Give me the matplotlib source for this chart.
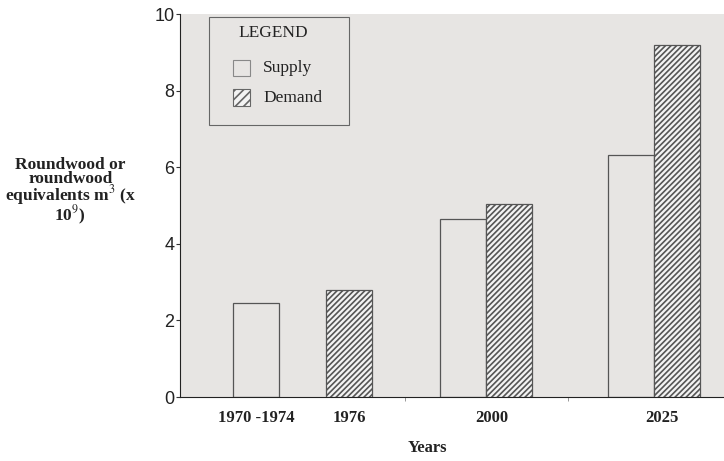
import matplotlib.pyplot as plt
import numpy as np

# degerler (m3 x 10^9)
years = ["1970 -1974", "1976", "2000", "2025"]
supply = [2.45, 0, 4.65, 6.33]
demand = [0, 2.8, 5.05, 9.2]

plt.rcParams['hatch.linewidth'] = 1.2
plt.rcParams['hatch.color'] = '#4a4a4a'
plt.rcParams['mathtext.fontset'] = 'stix'

serif = 'Liberation Serif'
bg = '#e7e5e3'
edge = '#555555'

# yerlesim (eksen birimi = 100 piksel)
sup_x = [0.76, None, 2.83, 4.51]
dem_x = [None, 1.69, 3.29, 4.975]
tick_x = [0.76, 1.69, 3.12, 4.82]
w = 0.46

fig = plt.figure(figsize=(7.24, 4.61), dpi=100)
ax = fig.add_axes([0.2486, 0.1388, 0.7514, 0.8308])
ax.set_facecolor(bg)

for x, v in zip(sup_x, supply):
    if x is not None:
        ax.bar(x, v, w, facecolor=bg, edgecolor=edge, linewidth=0.9, zorder=2)
for x, v in zip(dem_x, demand):
    if x is not None:
        ax.bar(x, v, w, facecolor='#f3f3f3', edgecolor=edge, linewidth=0.9,
               hatch='//////', zorder=3)

ax.set_xlim(0, 5.44)
ax.set_ylim(0, 10)
ax.set_yticks([0, 2, 4, 6, 8, 10])
ax.set_xticks(tick_x)
ax.set_xticklabels(years, family=serif, fontsize=12, weight='bold', color='#222222')
ax.set_xticks([2.25, 3.88], minor=True)
ax.tick_params(axis='x', which='major', length=0, pad=9)
ax.tick_params(axis='x', which='minor', length=3, color='#888888')
ax.tick_params(axis='y', length=3, pad=1, labelsize=13, color='#333333')
for t in ax.get_yticklabels():
    t.set_family('Liberation Sans')
    t.set_color('#222222')

ax.spines['top'].set_visible(False)
ax.spines['right'].set_visible(False)
ax.spines['left'].set_color('#222222')
ax.spines['bottom'].set_color('#222222')

# lejant kutusu (elle)
tr = ax.transAxes
ax.add_patch(plt.Rectangle((0.0533, 0.710), 0.2574, 0.282, transform=tr,
                           facecolor=bg, edgecolor='#666666', linewidth=0.8, zorder=5))
ax.text(0.171, 0.950, "LEGEND", transform=tr, family=serif, fontsize=12.5,
        ha='center', va='center', color='#222222', zorder=6)
ax.add_patch(plt.Rectangle((0.0983, 0.837), 0.031, 0.044, transform=tr,
                           facecolor=bg, edgecolor='#888888', linewidth=0.8, zorder=6))
ax.add_patch(plt.Rectangle((0.0983, 0.759), 0.031, 0.044, transform=tr,
                           facecolor='#f3f3f3', edgecolor='#666666', linewidth=0.8,
                           hatch='////', zorder=6))
ax.text(0.1526, 0.859, "Supply", transform=tr, family=serif, fontsize=12.5,
        ha='left', va='center', color='#222222', zorder=6)
ax.text(0.1526, 0.781, "Demand", transform=tr, family=serif, fontsize=12.5,
        ha='left', va='center', color='#222222', zorder=6)

fig.text(0.097, 0.583, "Roundwood or\nroundwood\nequivalents m$^{3}$ (x\n10$^{9}$)",
         family=serif, fontsize=12.5, weight='bold', ha='center', va='center',
         linespacing=0.8, color='#222222')
fig.text(0.591, 0.01, "Years", family=serif, fontsize=12, weight='bold',
         ha='center', va='bottom', color='#222222')

plt.savefig("out.png", dpi=100)
